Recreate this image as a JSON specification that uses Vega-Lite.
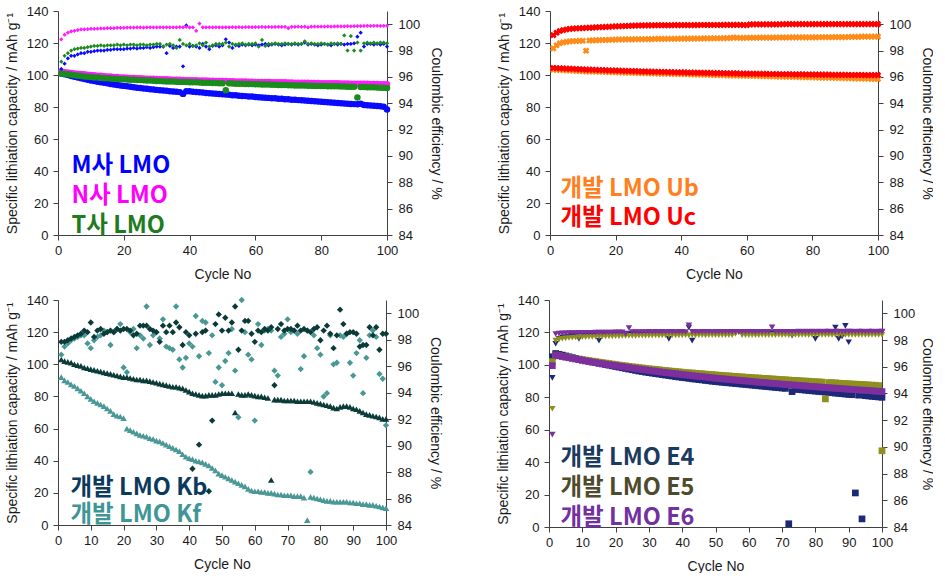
{
"$schema": "https://vega.github.io/schema/vega-lite/v6.json",
"padding": {"left": 5, "top": 5, "right": 0, "bottom": 0},
"background": "white",
"config": {
 "view": {"stroke": null},
 "font": "Liberation Sans",
 "axis": {"grid": false, "domainColor": "#404040", "tickColor": "#404040", "tickSize": 5, "labelFont": "Liberation Sans", "labelFontSize": 13, "labelColor": "#1a1a1a", "titleFont": "Liberation Sans", "titleFontSize": 14, "titleFontWeight": "normal", "titleColor": "#1a1a1a", "labelFlush": false, "labelOverlap": false},
 "legend": {"title": null, "orient": "none", "labelFont": "Noto Sans CJK KR", "labelFontSize": 23.5, "labelFontWeight": "bold", "symbolSize": 0, "symbolOpacity": 0, "symbolStrokeWidth": 0, "labelOffset": 0, "rowPadding": 4, "padding": 0, "labelLimit": 0}
},
"data": {"values": [
{"s":"M","c":1,"q":101.0,"e":96.6},{"s":"M","c":2,"q":100.5,"e":97.0},{"s":"M","c":3,"q":100.0,"e":97.4},{"s":"M","c":4,"q":99.4,"e":97.6},{"s":"M","c":5,"q":98.9,"e":97.6},{"s":"M","c":6,"q":98.4,"e":97.7},{"s":"M","c":7,"q":97.9,"e":97.8},{"s":"M","c":8,"q":97.5,"e":97.8},{"s":"M","c":9,"q":97.0,"e":97.9},{"s":"M","c":10,"q":96.6,"e":97.9},
{"s":"M","c":11,"q":96.2,"e":97.95},{"s":"M","c":12,"q":95.8,"e":98.0},{"s":"M","c":13,"q":95.4,"e":98.0},{"s":"M","c":14,"q":95.1,"e":98.0},{"s":"M","c":15,"q":94.8,"e":98.05},{"s":"M","c":16,"q":94.4,"e":98.05},{"s":"M","c":17,"q":94.1,"e":98.1},{"s":"M","c":18,"q":93.8,"e":98.1},{"s":"M","c":19,"q":93.5,"e":98.1},{"s":"M","c":20,"q":93.2,"e":98.1},
{"s":"M","c":21,"q":92.9,"e":98.15},{"s":"M","c":22,"q":92.6,"e":98.15},{"s":"M","c":23,"q":92.4,"e":98.2},{"s":"M","c":24,"q":92.1,"e":98.15},{"s":"M","c":25,"q":91.9,"e":98.2},{"s":"M","c":26,"q":91.6,"e":98.2},{"s":"M","c":27,"q":91.4,"e":98.25},{"s":"M","c":28,"q":91.1,"e":98.2},{"s":"M","c":29,"q":90.9,"e":98.25},{"s":"M","c":30,"q":90.7,"e":98.3},
{"s":"M","c":31,"q":90.5,"e":98.3},{"s":"M","c":32,"q":90.3,"e":98.3},{"s":"M","c":33,"q":90.1,"e":97.8},{"s":"M","c":34,"q":89.9,"e":98.35},{"s":"M","c":35,"q":89.7,"e":98.2},{"s":"M","c":36,"q":89.5,"e":98.3},{"s":"M","c":37,"q":89.3,"e":98.3},{"s":"M","c":38,"q":88.2,"e":96.8},{"s":"M","c":39,"q":89.9,"e":99.9},{"s":"M","c":40,"q":89.8,"e":98.3},
{"s":"M","c":41,"q":89.6,"e":98.35},{"s":"M","c":42,"q":89.4,"e":98.3},{"s":"M","c":43,"q":89.2,"e":98.2},{"s":"M","c":44,"q":89.0,"e":98.5},{"s":"M","c":45,"q":88.8,"e":98.3},{"s":"M","c":46,"q":88.6,"e":98.1},{"s":"M","c":47,"q":88.4,"e":98.35},{"s":"M","c":48,"q":88.3,"e":98.4},{"s":"M","c":49,"q":88.1,"e":98.3},{"s":"M","c":50,"q":87.9,"e":98.4},
{"s":"M","c":51,"q":87.8,"e":98.85},{"s":"M","c":52,"q":87.6,"e":98.6},{"s":"M","c":53,"q":87.4,"e":98.2},{"s":"M","c":54,"q":87.3,"e":98.4},{"s":"M","c":55,"q":87.1,"e":98.35},{"s":"M","c":56,"q":86.9,"e":98.45},{"s":"M","c":57,"q":86.8,"e":98.4},{"s":"M","c":58,"q":86.6,"e":98.45},{"s":"M","c":59,"q":86.5,"e":98.4},{"s":"M","c":60,"q":86.3,"e":98.45},
{"s":"M","c":61,"q":86.1,"e":98.4},{"s":"M","c":62,"q":86.0,"e":98.45},{"s":"M","c":63,"q":85.8,"e":98.5},{"s":"M","c":64,"q":85.7,"e":98.4},{"s":"M","c":65,"q":85.5,"e":98.45},{"s":"M","c":66,"q":85.4,"e":98.5},{"s":"M","c":67,"q":85.2,"e":98.45},{"s":"M","c":68,"q":85.1,"e":98.4},{"s":"M","c":69,"q":84.9,"e":98.45},{"s":"M","c":70,"q":84.8,"e":98.5},
{"s":"M","c":71,"q":84.6,"e":98.45},{"s":"M","c":72,"q":84.5,"e":98.5},{"s":"M","c":73,"q":84.3,"e":98.45},{"s":"M","c":74,"q":84.2,"e":98.5},{"s":"M","c":75,"q":84.0,"e":98.6},{"s":"M","c":76,"q":83.9,"e":98.45},{"s":"M","c":77,"q":83.7,"e":98.5},{"s":"M","c":78,"q":83.6,"e":98.45},{"s":"M","c":79,"q":83.4,"e":98.4},{"s":"M","c":80,"q":83.3,"e":98.45},
{"s":"M","c":81,"q":83.1,"e":98.5},{"s":"M","c":82,"q":83.0,"e":98.45},{"s":"M","c":83,"q":82.8,"e":98.4},{"s":"M","c":84,"q":82.7,"e":98.5},{"s":"M","c":85,"q":82.5,"e":98.45},{"s":"M","c":86,"q":82.4,"e":98.5},{"s":"M","c":87,"q":82.2,"e":98.45},{"s":"M","c":88,"q":82.1,"e":98.5},{"s":"M","c":89,"q":81.9,"e":98.5},{"s":"M","c":90,"q":81.8,"e":98.55},
{"s":"M","c":91,"q":81.7,"e":99.05},{"s":"M","c":92,"q":82.0,"e":99.35},{"s":"M","c":93,"q":81.3,"e":98.3},{"s":"M","c":94,"q":81.1,"e":98.5},{"s":"M","c":95,"q":81.0,"e":98.5},{"s":"M","c":96,"q":80.8,"e":98.45},{"s":"M","c":97,"q":80.6,"e":98.5},{"s":"M","c":98,"q":80.4,"e":98.45},{"s":"M","c":99,"q":80.2,"e":98.5},{"s":"M","c":100,"q":78.5,"e":98.3},
{"s":"N","c":1,"q":102.0,"e":98.85},{"s":"N","c":2,"q":101.7,"e":99.2},{"s":"N","c":3,"q":101.5,"e":99.35},{"s":"N","c":4,"q":101.2,"e":99.45},{"s":"N","c":5,"q":101.0,"e":99.5},{"s":"N","c":6,"q":100.8,"e":99.55},{"s":"N","c":7,"q":100.6,"e":99.6},{"s":"N","c":8,"q":100.4,"e":99.6},{"s":"N","c":9,"q":100.2,"e":99.62},{"s":"N","c":10,"q":100.0,"e":99.65},
{"s":"N","c":11,"q":99.8,"e":99.65},{"s":"N","c":12,"q":99.6,"e":99.66},{"s":"N","c":13,"q":99.5,"e":99.68},{"s":"N","c":14,"q":99.3,"e":99.68},{"s":"N","c":15,"q":99.1,"e":99.7},{"s":"N","c":16,"q":99.0,"e":99.7},{"s":"N","c":17,"q":98.8,"e":99.7},{"s":"N","c":18,"q":98.7,"e":99.72},{"s":"N","c":19,"q":98.5,"e":99.72},{"s":"N","c":20,"q":98.4,"e":99.72},
{"s":"N","c":21,"q":98.3,"e":99.74},{"s":"N","c":22,"q":98.2,"e":99.74},{"s":"N","c":23,"q":98.1,"e":99.74},{"s":"N","c":24,"q":98.0,"e":99.75},{"s":"N","c":25,"q":97.9,"e":99.75},{"s":"N","c":26,"q":97.8,"e":99.74},{"s":"N","c":27,"q":97.7,"e":99.75},{"s":"N","c":28,"q":97.7,"e":99.76},{"s":"N","c":29,"q":97.6,"e":99.75},{"s":"N","c":30,"q":97.5,"e":99.75},
{"s":"N","c":31,"q":97.4,"e":99.76},{"s":"N","c":32,"q":97.3,"e":99.75},{"s":"N","c":33,"q":97.3,"e":99.76},{"s":"N","c":34,"q":97.2,"e":99.75},{"s":"N","c":35,"q":97.1,"e":99.76},{"s":"N","c":36,"q":97.0,"e":99.75},{"s":"N","c":37,"q":97.0,"e":99.77},{"s":"N","c":38,"q":96.9,"e":99.76},{"s":"N","c":39,"q":96.8,"e":99.8},{"s":"N","c":40,"q":96.8,"e":99.75},
{"s":"N","c":41,"q":96.7,"e":99.75},{"s":"N","c":42,"q":96.7,"e":99.5},{"s":"N","c":43,"q":96.6,"e":100.05},{"s":"N","c":44,"q":96.5,"e":99.76},{"s":"N","c":45,"q":96.5,"e":99.75},{"s":"N","c":46,"q":96.4,"e":99.76},{"s":"N","c":47,"q":96.4,"e":99.75},{"s":"N","c":48,"q":96.3,"e":99.76},{"s":"N","c":49,"q":96.3,"e":99.76},{"s":"N","c":50,"q":96.2,"e":99.75},
{"s":"N","c":51,"q":96.2,"e":99.76},{"s":"N","c":52,"q":96.1,"e":99.76},{"s":"N","c":53,"q":96.1,"e":99.77},{"s":"N","c":54,"q":96.0,"e":99.76},{"s":"N","c":55,"q":96.0,"e":99.77},{"s":"N","c":56,"q":95.9,"e":99.76},{"s":"N","c":57,"q":95.9,"e":99.77},{"s":"N","c":58,"q":95.8,"e":99.78},{"s":"N","c":59,"q":95.8,"e":99.77},{"s":"N","c":60,"q":95.7,"e":99.78},
{"s":"N","c":61,"q":95.7,"e":99.78},{"s":"N","c":62,"q":95.6,"e":99.79},{"s":"N","c":63,"q":95.6,"e":99.78},{"s":"N","c":64,"q":95.6,"e":99.79},{"s":"N","c":65,"q":95.5,"e":99.78},{"s":"N","c":66,"q":95.5,"e":99.79},{"s":"N","c":67,"q":95.4,"e":99.8},{"s":"N","c":68,"q":95.4,"e":99.79},{"s":"N","c":69,"q":95.4,"e":99.8},{"s":"N","c":70,"q":95.3,"e":99.7},
{"s":"N","c":71,"q":95.3,"e":99.8},{"s":"N","c":72,"q":95.2,"e":99.8},{"s":"N","c":73,"q":95.2,"e":99.81},{"s":"N","c":74,"q":95.2,"e":99.8},{"s":"N","c":75,"q":95.1,"e":99.81},{"s":"N","c":76,"q":95.1,"e":99.75},{"s":"N","c":77,"q":95.0,"e":99.81},{"s":"N","c":78,"q":95.0,"e":99.82},{"s":"N","c":79,"q":95.0,"e":99.81},{"s":"N","c":80,"q":94.9,"e":99.82},
{"s":"N","c":81,"q":94.9,"e":99.82},{"s":"N","c":82,"q":94.9,"e":99.83},{"s":"N","c":83,"q":94.8,"e":99.82},{"s":"N","c":84,"q":94.8,"e":99.83},{"s":"N","c":85,"q":94.8,"e":99.84},{"s":"N","c":86,"q":94.7,"e":99.83},{"s":"N","c":87,"q":94.7,"e":99.84},{"s":"N","c":88,"q":94.7,"e":99.85},{"s":"N","c":89,"q":94.6,"e":99.84},{"s":"N","c":90,"q":94.6,"e":99.85},
{"s":"N","c":91,"q":94.6,"e":99.86},{"s":"N","c":92,"q":94.5,"e":99.86},{"s":"N","c":93,"q":94.5,"e":99.87},{"s":"N","c":94,"q":94.5,"e":99.88},{"s":"N","c":95,"q":94.4,"e":99.87},{"s":"N","c":96,"q":94.4,"e":99.88},{"s":"N","c":97,"q":94.4,"e":99.88},{"s":"N","c":98,"q":94.3,"e":99.87},{"s":"N","c":99,"q":94.3,"e":99.88},{"s":"N","c":100,"q":94.3,"e":99.88},
{"s":"T","c":1,"q":101.0,"e":97.15},{"s":"T","c":2,"q":100.7,"e":97.6},{"s":"T","c":3,"q":100.4,"e":97.8},{"s":"T","c":4,"q":100.1,"e":98.0},{"s":"T","c":5,"q":99.8,"e":98.1},{"s":"T","c":6,"q":99.6,"e":98.15},{"s":"T","c":7,"q":99.4,"e":98.2},{"s":"T","c":8,"q":99.1,"e":98.2},{"s":"T","c":9,"q":98.9,"e":98.25},{"s":"T","c":10,"q":98.7,"e":98.3},
{"s":"T","c":11,"q":98.5,"e":98.35},{"s":"T","c":12,"q":98.4,"e":98.35},{"s":"T","c":13,"q":98.2,"e":98.4},{"s":"T","c":14,"q":98.0,"e":98.35},{"s":"T","c":15,"q":97.9,"e":98.4},{"s":"T","c":16,"q":97.8,"e":98.4},{"s":"T","c":17,"q":97.7,"e":98.4},{"s":"T","c":18,"q":97.5,"e":98.45},{"s":"T","c":19,"q":97.4,"e":98.4},{"s":"T","c":20,"q":97.3,"e":98.45},
{"s":"T","c":21,"q":97.2,"e":98.4},{"s":"T","c":22,"q":97.1,"e":98.45},{"s":"T","c":23,"q":97.0,"e":98.45},{"s":"T","c":24,"q":96.9,"e":98.4},{"s":"T","c":25,"q":96.8,"e":98.45},{"s":"T","c":26,"q":96.7,"e":98.45},{"s":"T","c":27,"q":96.6,"e":98.4},{"s":"T","c":28,"q":96.5,"e":98.45},{"s":"T","c":29,"q":96.4,"e":98.45},{"s":"T","c":30,"q":96.3,"e":98.5},
{"s":"T","c":31,"q":96.2,"e":98.5},{"s":"T","c":32,"q":96.1,"e":98.3},{"s":"T","c":33,"q":96.0,"e":98.45},{"s":"T","c":34,"q":96.0,"e":98.5},{"s":"T","c":35,"q":95.9,"e":98.4},{"s":"T","c":36,"q":95.8,"e":98.2},{"s":"T","c":37,"q":95.7,"e":98.8},{"s":"T","c":38,"q":95.7,"e":98.5},{"s":"T","c":39,"q":95.6,"e":98.4},{"s":"T","c":40,"q":95.5,"e":98.5},
{"s":"T","c":41,"q":95.4,"e":98.35},{"s":"T","c":42,"q":95.4,"e":98.4},{"s":"T","c":43,"q":95.3,"e":98.55},{"s":"T","c":44,"q":95.2,"e":98.4},{"s":"T","c":45,"q":95.2,"e":98.6},{"s":"T","c":46,"q":95.1,"e":98.3},{"s":"T","c":47,"q":95.0,"e":98.4},{"s":"T","c":48,"q":95.0,"e":98.5},{"s":"T","c":49,"q":94.9,"e":98.5},{"s":"T","c":50,"q":94.8,"e":98.5},
{"s":"T","c":51,"q":90.5,"e":98.6},{"s":"T","c":52,"q":94.8,"e":98.3},{"s":"T","c":53,"q":94.7,"e":98.5},{"s":"T","c":54,"q":94.6,"e":98.45},{"s":"T","c":55,"q":94.6,"e":98.5},{"s":"T","c":56,"q":94.5,"e":98.55},{"s":"T","c":57,"q":94.4,"e":98.45},{"s":"T","c":58,"q":94.4,"e":98.5},{"s":"T","c":59,"q":94.3,"e":98.5},{"s":"T","c":60,"q":94.2,"e":98.55},
{"s":"T","c":61,"q":94.2,"e":98.3},{"s":"T","c":62,"q":94.1,"e":98.8},{"s":"T","c":63,"q":94.1,"e":98.35},{"s":"T","c":64,"q":94.0,"e":98.5},{"s":"T","c":65,"q":93.9,"e":98.5},{"s":"T","c":66,"q":93.9,"e":98.55},{"s":"T","c":67,"q":93.8,"e":98.5},{"s":"T","c":68,"q":93.8,"e":98.5},{"s":"T","c":69,"q":93.7,"e":98.55},{"s":"T","c":70,"q":93.6,"e":98.5},
{"s":"T","c":71,"q":93.6,"e":98.5},{"s":"T","c":72,"q":93.5,"e":98.55},{"s":"T","c":73,"q":93.5,"e":98.5},{"s":"T","c":74,"q":93.4,"e":98.5},{"s":"T","c":75,"q":93.4,"e":98.7},{"s":"T","c":76,"q":93.3,"e":98.5},{"s":"T","c":77,"q":93.3,"e":98.55},{"s":"T","c":78,"q":93.2,"e":98.5},{"s":"T","c":79,"q":93.2,"e":98.5},{"s":"T","c":80,"q":93.1,"e":98.55},
{"s":"T","c":81,"q":93.1,"e":98.5},{"s":"T","c":82,"q":93.0,"e":98.45},{"s":"T","c":83,"q":93.0,"e":98.55},{"s":"T","c":84,"q":92.9,"e":98.5},{"s":"T","c":85,"q":92.9,"e":98.55},{"s":"T","c":86,"q":92.8,"e":98.5},{"s":"T","c":87,"q":92.8,"e":99.15},{"s":"T","c":88,"q":92.7,"e":98.0},{"s":"T","c":89,"q":92.7,"e":99.1},{"s":"T","c":90,"q":92.6,"e":98.0},
{"s":"T","c":91,"q":86.0,"e":98.6},{"s":"T","c":92,"q":92.5,"e":98.0},{"s":"T","c":93,"q":92.5,"e":98.55},{"s":"T","c":94,"q":92.4,"e":98.6},{"s":"T","c":95,"q":92.4,"e":98.55},{"s":"T","c":96,"q":92.3,"e":98.6},{"s":"T","c":97,"q":92.2,"e":98.55},{"s":"T","c":98,"q":92.1,"e":98.6},{"s":"T","c":99,"q":92.0,"e":98.6},{"s":"T","c":100,"q":91.9,"e":98.55},
{"s":"Ub","c":1,"q":103.3,"e":98.16},{"s":"Ub","c":2,"q":103.2,"e":98.4},{"s":"Ub","c":3,"q":103.1,"e":98.55},{"s":"Ub","c":4,"q":103.0,"e":98.62},{"s":"Ub","c":5,"q":102.9,"e":98.66},{"s":"Ub","c":6,"q":102.8,"e":98.69},{"s":"Ub","c":7,"q":102.7,"e":98.71},{"s":"Ub","c":8,"q":102.6,"e":98.72},{"s":"Ub","c":9,"q":102.5,"e":98.73},{"s":"Ub","c":10,"q":102.4,"e":98.74},
{"s":"Ub","c":11,"q":102.3,"e":97.98},{"s":"Ub","c":12,"q":102.2,"e":98.76},{"s":"Ub","c":13,"q":102.2,"e":98.77},{"s":"Ub","c":14,"q":102.1,"e":98.78},{"s":"Ub","c":15,"q":102.0,"e":98.79},{"s":"Ub","c":16,"q":102.0,"e":98.8},{"s":"Ub","c":17,"q":101.9,"e":98.8},{"s":"Ub","c":18,"q":101.8,"e":98.81},{"s":"Ub","c":19,"q":101.8,"e":98.82},{"s":"Ub","c":20,"q":101.7,"e":98.83},
{"s":"Ub","c":21,"q":101.6,"e":98.84},{"s":"Ub","c":22,"q":101.6,"e":98.84},{"s":"Ub","c":23,"q":101.5,"e":98.85},{"s":"Ub","c":24,"q":101.5,"e":98.85},{"s":"Ub","c":25,"q":101.4,"e":98.85},{"s":"Ub","c":26,"q":101.3,"e":98.86},{"s":"Ub","c":27,"q":101.3,"e":98.86},{"s":"Ub","c":28,"q":101.2,"e":98.86},{"s":"Ub","c":29,"q":101.2,"e":98.87},{"s":"Ub","c":30,"q":101.1,"e":98.87},
{"s":"Ub","c":31,"q":101.0,"e":98.87},{"s":"Ub","c":32,"q":101.0,"e":98.88},{"s":"Ub","c":33,"q":100.9,"e":98.88},{"s":"Ub","c":34,"q":100.9,"e":98.88},{"s":"Ub","c":35,"q":100.8,"e":98.88},{"s":"Ub","c":36,"q":100.8,"e":98.89},{"s":"Ub","c":37,"q":100.7,"e":98.89},{"s":"Ub","c":38,"q":100.7,"e":98.89},{"s":"Ub","c":39,"q":100.6,"e":98.89},{"s":"Ub","c":40,"q":100.6,"e":98.9},
{"s":"Ub","c":41,"q":100.5,"e":98.9},{"s":"Ub","c":42,"q":100.5,"e":98.9},{"s":"Ub","c":43,"q":100.4,"e":98.9},{"s":"Ub","c":44,"q":100.4,"e":98.91},{"s":"Ub","c":45,"q":100.3,"e":98.91},{"s":"Ub","c":46,"q":100.3,"e":98.91},{"s":"Ub","c":47,"q":100.2,"e":98.92},{"s":"Ub","c":48,"q":100.2,"e":98.92},{"s":"Ub","c":49,"q":100.1,"e":98.92},{"s":"Ub","c":50,"q":100.0,"e":98.93},
{"s":"Ub","c":51,"q":100.0,"e":98.93},{"s":"Ub","c":52,"q":99.9,"e":98.93},{"s":"Ub","c":53,"q":99.9,"e":98.94},{"s":"Ub","c":54,"q":99.8,"e":98.94},{"s":"Ub","c":55,"q":99.8,"e":98.95},{"s":"Ub","c":56,"q":99.7,"e":98.99},{"s":"Ub","c":57,"q":99.7,"e":98.96},{"s":"Ub","c":58,"q":99.6,"e":98.96},{"s":"Ub","c":59,"q":99.6,"e":98.96},{"s":"Ub","c":60,"q":99.5,"e":98.97},
{"s":"Ub","c":61,"q":99.5,"e":98.97},{"s":"Ub","c":62,"q":99.4,"e":98.97},{"s":"Ub","c":63,"q":99.4,"e":98.97},{"s":"Ub","c":64,"q":99.3,"e":98.98},{"s":"Ub","c":65,"q":99.3,"e":98.98},{"s":"Ub","c":66,"q":99.2,"e":98.98},{"s":"Ub","c":67,"q":99.2,"e":98.98},{"s":"Ub","c":68,"q":99.1,"e":98.98},{"s":"Ub","c":69,"q":99.1,"e":98.99},{"s":"Ub","c":70,"q":99.0,"e":98.99},
{"s":"Ub","c":71,"q":99.0,"e":98.99},{"s":"Ub","c":72,"q":98.9,"e":98.99},{"s":"Ub","c":73,"q":98.9,"e":98.99},{"s":"Ub","c":74,"q":98.8,"e":99.0},{"s":"Ub","c":75,"q":98.8,"e":99.0},{"s":"Ub","c":76,"q":98.7,"e":99.0},{"s":"Ub","c":77,"q":98.7,"e":99.0},{"s":"Ub","c":78,"q":98.6,"e":99.0},{"s":"Ub","c":79,"q":98.6,"e":99.0},{"s":"Ub","c":80,"q":98.5,"e":99.0},
{"s":"Ub","c":81,"q":98.5,"e":99.0},{"s":"Ub","c":82,"q":98.4,"e":99.01},{"s":"Ub","c":83,"q":98.4,"e":99.01},{"s":"Ub","c":84,"q":98.3,"e":99.01},{"s":"Ub","c":85,"q":98.3,"e":99.01},{"s":"Ub","c":86,"q":98.2,"e":99.01},{"s":"Ub","c":87,"q":98.2,"e":99.02},{"s":"Ub","c":88,"q":98.1,"e":99.02},{"s":"Ub","c":89,"q":98.1,"e":99.02},{"s":"Ub","c":90,"q":98.0,"e":99.02},
{"s":"Ub","c":91,"q":98.0,"e":99.03},{"s":"Ub","c":92,"q":97.9,"e":99.04},{"s":"Ub","c":93,"q":97.9,"e":99.04},{"s":"Ub","c":94,"q":97.8,"e":99.04},{"s":"Ub","c":95,"q":97.8,"e":99.05},{"s":"Ub","c":96,"q":97.7,"e":99.05},{"s":"Ub","c":97,"q":97.7,"e":99.05},{"s":"Ub","c":98,"q":97.6,"e":99.05},{"s":"Ub","c":99,"q":97.6,"e":99.05},{"s":"Ub","c":100,"q":97.5,"e":99.05},
{"s":"Uc","c":1,"q":104.4,"e":99.17},{"s":"Uc","c":2,"q":104.3,"e":99.35},{"s":"Uc","c":3,"q":104.2,"e":99.48},{"s":"Uc","c":4,"q":104.1,"e":99.55},{"s":"Uc","c":5,"q":104.0,"e":99.6},{"s":"Uc","c":6,"q":103.9,"e":99.64},{"s":"Uc","c":7,"q":103.8,"e":99.66},{"s":"Uc","c":8,"q":103.7,"e":99.68},{"s":"Uc","c":9,"q":103.6,"e":99.69},{"s":"Uc","c":10,"q":103.5,"e":99.7},
{"s":"Uc","c":11,"q":103.4,"e":99.72},{"s":"Uc","c":12,"q":103.4,"e":99.73},{"s":"Uc","c":13,"q":103.3,"e":99.74},{"s":"Uc","c":14,"q":103.2,"e":99.76},{"s":"Uc","c":15,"q":103.1,"e":99.77},{"s":"Uc","c":16,"q":103.1,"e":99.78},{"s":"Uc","c":17,"q":103.0,"e":99.79},{"s":"Uc","c":18,"q":102.9,"e":99.8},{"s":"Uc","c":19,"q":102.8,"e":99.82},{"s":"Uc","c":20,"q":102.8,"e":99.83},
{"s":"Uc","c":21,"q":102.7,"e":99.84},{"s":"Uc","c":22,"q":102.6,"e":99.85},{"s":"Uc","c":23,"q":102.6,"e":99.86},{"s":"Uc","c":24,"q":102.5,"e":99.87},{"s":"Uc","c":25,"q":102.4,"e":99.88},{"s":"Uc","c":26,"q":102.4,"e":99.89},{"s":"Uc","c":27,"q":102.3,"e":99.9},{"s":"Uc","c":28,"q":102.2,"e":99.9},{"s":"Uc","c":29,"q":102.2,"e":99.91},{"s":"Uc","c":30,"q":102.1,"e":99.91},
{"s":"Uc","c":31,"q":102.1,"e":99.91},{"s":"Uc","c":32,"q":102.0,"e":99.92},{"s":"Uc","c":33,"q":102.0,"e":99.92},{"s":"Uc","c":34,"q":101.9,"e":99.92},{"s":"Uc","c":35,"q":101.9,"e":99.92},{"s":"Uc","c":36,"q":101.8,"e":99.92},{"s":"Uc","c":37,"q":101.8,"e":99.92},{"s":"Uc","c":38,"q":101.7,"e":99.93},{"s":"Uc","c":39,"q":101.7,"e":99.93},{"s":"Uc","c":40,"q":101.6,"e":99.93},
{"s":"Uc","c":41,"q":101.6,"e":99.93},{"s":"Uc","c":42,"q":101.5,"e":99.93},{"s":"Uc","c":43,"q":101.5,"e":99.93},{"s":"Uc","c":44,"q":101.5,"e":99.93},{"s":"Uc","c":45,"q":101.4,"e":99.93},{"s":"Uc","c":46,"q":101.4,"e":99.94},{"s":"Uc","c":47,"q":101.3,"e":99.94},{"s":"Uc","c":48,"q":101.3,"e":99.94},{"s":"Uc","c":49,"q":101.3,"e":99.94},{"s":"Uc","c":50,"q":101.2,"e":99.94},
{"s":"Uc","c":51,"q":101.2,"e":99.94},{"s":"Uc","c":52,"q":101.2,"e":99.94},{"s":"Uc","c":53,"q":101.1,"e":99.95},{"s":"Uc","c":54,"q":101.1,"e":99.95},{"s":"Uc","c":55,"q":101.0,"e":99.95},{"s":"Uc","c":56,"q":101.0,"e":99.95},{"s":"Uc","c":57,"q":101.0,"e":99.95},{"s":"Uc","c":58,"q":100.9,"e":99.95},{"s":"Uc","c":59,"q":100.9,"e":99.94},{"s":"Uc","c":60,"q":100.9,"e":99.93},
{"s":"Uc","c":61,"q":100.8,"e":99.98},{"s":"Uc","c":62,"q":100.8,"e":99.98},{"s":"Uc","c":63,"q":100.8,"e":99.98},{"s":"Uc","c":64,"q":100.7,"e":99.98},{"s":"Uc","c":65,"q":100.7,"e":99.99},{"s":"Uc","c":66,"q":100.7,"e":99.99},{"s":"Uc","c":67,"q":100.6,"e":99.99},{"s":"Uc","c":68,"q":100.6,"e":99.99},{"s":"Uc","c":69,"q":100.6,"e":99.99},{"s":"Uc","c":70,"q":100.5,"e":99.99},
{"s":"Uc","c":71,"q":100.5,"e":100.0},{"s":"Uc","c":72,"q":100.5,"e":100.0},{"s":"Uc","c":73,"q":100.5,"e":100.0},{"s":"Uc","c":74,"q":100.4,"e":100.0},{"s":"Uc","c":75,"q":100.4,"e":100.0},{"s":"Uc","c":76,"q":100.4,"e":100.0},{"s":"Uc","c":77,"q":100.4,"e":100.0},{"s":"Uc","c":78,"q":100.3,"e":100.0},{"s":"Uc","c":79,"q":100.3,"e":100.0},{"s":"Uc","c":80,"q":100.3,"e":100.0},
{"s":"Uc","c":81,"q":100.3,"e":100.0},{"s":"Uc","c":82,"q":100.2,"e":100.0},{"s":"Uc","c":83,"q":100.2,"e":100.0},{"s":"Uc","c":84,"q":100.2,"e":100.0},{"s":"Uc","c":85,"q":100.2,"e":100.0},{"s":"Uc","c":86,"q":100.1,"e":100.0},{"s":"Uc","c":87,"q":100.1,"e":100.0},{"s":"Uc","c":88,"q":100.1,"e":100.0},{"s":"Uc","c":89,"q":100.1,"e":100.0},{"s":"Uc","c":90,"q":100.1,"e":100.0},
{"s":"Uc","c":91,"q":100.0,"e":100.0},{"s":"Uc","c":92,"q":100.0,"e":100.0},{"s":"Uc","c":93,"q":100.0,"e":100.0},{"s":"Uc","c":94,"q":100.0,"e":100.0},{"s":"Uc","c":95,"q":100.0,"e":100.0},{"s":"Uc","c":96,"q":99.9,"e":100.0},{"s":"Uc","c":97,"q":99.9,"e":100.0},{"s":"Uc","c":98,"q":99.9,"e":100.0},{"s":"Uc","c":99,"q":99.9,"e":100.0},{"s":"Uc","c":100,"q":99.9,"e":100.0},
{"s":"Kf","c":1,"q":92,"e":96.87},{"s":"Kf","c":2,"q":90,"e":97.48},{"s":"Kf","c":3,"q":89,"e":97.72},{"s":"Kf","c":4,"q":87.5,"e":97.96},{"s":"Kf","c":5,"q":86.5,"e":98.09},{"s":"Kf","c":6,"q":85,"e":98.21},{"s":"Kf","c":7,"q":83.5,"e":98.33},{"s":"Kf","c":8,"q":82,"e":98.33},{"s":"Kf","c":9,"q":80,"e":97.72},{"s":"Kf","c":10,"q":78.5,"e":97.36},
{"s":"Kf","c":11,"q":77,"e":97.96},{"s":"Kf","c":12,"q":76,"e":98.21},{"s":"Kf","c":13,"q":75,"e":98.33},{"s":"Kf","c":14,"q":74,"e":98.69},{"s":"Kf","c":15,"q":72.5,"e":98.57},{"s":"Kf","c":16,"q":71,"e":97.6},{"s":"Kf","c":17,"q":69,"e":98.57},{"s":"Kf","c":18,"q":68,"e":98.81},{"s":"Kf","c":19,"q":67.5,"e":99.18},{"s":"Kf","c":20,"q":66.5,"e":95.9},
{"s":"Kf","c":21,"q":60,"e":95.54},{"s":"Kf","c":22,"q":59,"e":98.57},{"s":"Kf","c":23,"q":58,"e":98.81},{"s":"Kf","c":24,"q":57,"e":97.36},{"s":"Kf","c":25,"q":56,"e":98.33},{"s":"Kf","c":26,"q":55.5,"e":98.09},{"s":"Kf","c":27,"q":55,"e":100.51},{"s":"Kf","c":28,"q":54,"e":97.6},{"s":"Kf","c":29,"q":53.5,"e":98.33},{"s":"Kf","c":30,"q":52.5,"e":98.57},
{"s":"Kf","c":31,"q":52,"e":98.09},{"s":"Kf","c":32,"q":51,"e":99.54},{"s":"Kf","c":33,"q":50,"e":97.48},{"s":"Kf","c":34,"q":49,"e":97.36},{"s":"Kf","c":35,"q":48,"e":97.24},{"s":"Kf","c":36,"q":47,"e":100.51},{"s":"Kf","c":37,"q":46,"e":96.51},{"s":"Kf","c":38,"q":44,"e":95.9},{"s":"Kf","c":39,"q":42.5,"e":96.63},{"s":"Kf","c":40,"q":41.5,"e":97.72},
{"s":"Kf","c":41,"q":41,"e":97.48},{"s":"Kf","c":42,"q":40,"e":99.79},{"s":"Kf","c":43,"q":39.5,"e":96.75},{"s":"Kf","c":44,"q":39,"e":99.42},{"s":"Kf","c":45,"q":38,"e":99.3},{"s":"Kf","c":46,"q":37,"e":96.99},{"s":"Kf","c":47,"q":35.5,"e":98.33},{"s":"Kf","c":48,"q":34,"e":94.81},{"s":"Kf","c":49,"q":32,"e":95.9},{"s":"Kf","c":50,"q":31,"e":94.56},
{"s":"Kf","c":51,"q":30,"e":96.39},{"s":"Kf","c":52,"q":29,"e":96.99},{"s":"Kf","c":53,"q":28,"e":98.81},{"s":"Kf","c":54,"q":27,"e":95.66},{"s":"Kf","c":55,"q":26,"e":92.14},{"s":"Kf","c":56,"q":25,"e":101.0},{"s":"Kf","c":57,"q":24,"e":98.57},{"s":"Kf","c":58,"q":22.5,"e":96.87},{"s":"Kf","c":59,"q":21.5,"e":96.51},{"s":"Kf","c":60,"q":21,"e":91.89},
{"s":"Kf","c":61,"q":21,"e":99.18},{"s":"Kf","c":62,"q":20.5,"e":97.6},{"s":"Kf","c":63,"q":20.5,"e":98.69},{"s":"Kf","c":64,"q":20,"e":98.81},{"s":"Kf","c":65,"q":20,"e":98.69},{"s":"Kf","c":66,"q":19.5,"e":95.66},{"s":"Kf","c":67,"q":19,"e":95.29},{"s":"Kf","c":68,"q":19,"e":98.21},{"s":"Kf","c":69,"q":18.5,"e":98.45},{"s":"Kf","c":70,"q":18.5,"e":99.54},
{"s":"Kf","c":71,"q":18.5,"e":98.57},{"s":"Kf","c":72,"q":18,"e":98.69},{"s":"Kf","c":73,"q":18,"e":98.45},{"s":"Kf","c":74,"q":18,"e":95.78},{"s":"Kf","c":75,"q":17,"e":96.75},{"s":"Kf","c":76,"q":3,"e":98.69},{"s":"Kf","c":77,"q":17.5,"e":88.01},{"s":"Kf","c":78,"q":17,"e":98.33},{"s":"Kf","c":79,"q":16.5,"e":97.36},{"s":"Kf","c":80,"q":16,"e":96.87},
{"s":"Kf","c":81,"q":15.5,"e":93.71},{"s":"Kf","c":82,"q":15,"e":93.96},{"s":"Kf","c":83,"q":15,"e":98.33},{"s":"Kf","c":84,"q":14.5,"e":96.14},{"s":"Kf","c":85,"q":14.5,"e":96.26},{"s":"Kf","c":86,"q":14.5,"e":98.33},{"s":"Kf","c":87,"q":14.5,"e":98.21},{"s":"Kf","c":88,"q":14.5,"e":98.45},{"s":"Kf","c":89,"q":14,"e":96.26},{"s":"Kf","c":90,"q":14,"e":95.29},
{"s":"Kf","c":91,"q":13.5,"e":96.99},{"s":"Kf","c":92,"q":13.5,"e":97.96},{"s":"Kf","c":93,"q":13,"e":93.96},{"s":"Kf","c":94,"q":13,"e":96.63},{"s":"Kf","c":95,"q":12.5,"e":98.33},{"s":"Kf","c":96,"q":12.5,"e":98.69},{"s":"Kf","c":97,"q":12,"e":98.21},{"s":"Kf","c":98,"q":11.5,"e":95.41},{"s":"Kf","c":99,"q":11,"e":95.05},{"s":"Kf","c":100,"q":10.5,"e":91.53},
{"s":"Kb","c":1,"q":103,"e":97.84},{"s":"Kb","c":2,"q":102,"e":97.84},{"s":"Kb","c":3,"q":101.5,"e":97.96},{"s":"Kb","c":4,"q":101,"e":98.09},{"s":"Kb","c":5,"q":100,"e":98.21},{"s":"Kb","c":6,"q":99.5,"e":98.33},{"s":"Kb","c":7,"q":99,"e":98.45},{"s":"Kb","c":8,"q":98,"e":98.69},{"s":"Kb","c":9,"q":97.5,"e":98.57},{"s":"Kb","c":10,"q":97,"e":99.3},
{"s":"Kb","c":11,"q":96.5,"e":98.21},{"s":"Kb","c":12,"q":96,"e":98.69},{"s":"Kb","c":13,"q":95.5,"e":98.81},{"s":"Kb","c":14,"q":95,"e":98.45},{"s":"Kb","c":15,"q":94.5,"e":98.57},{"s":"Kb","c":16,"q":94,"e":98.69},{"s":"Kb","c":17,"q":93.5,"e":98.57},{"s":"Kb","c":18,"q":93,"e":98.81},{"s":"Kb","c":19,"q":92.5,"e":98.69},{"s":"Kb","c":20,"q":92,"e":98.81},
{"s":"Kb","c":21,"q":92,"e":98.81},{"s":"Kb","c":22,"q":91.5,"e":98.69},{"s":"Kb","c":23,"q":91,"e":98.33},{"s":"Kb","c":24,"q":90.5,"e":98.45},{"s":"Kb","c":25,"q":90.5,"e":99.06},{"s":"Kb","c":26,"q":90,"e":99.06},{"s":"Kb","c":27,"q":90,"e":99.06},{"s":"Kb","c":28,"q":89.5,"e":98.81},{"s":"Kb","c":29,"q":89,"e":98.69},{"s":"Kb","c":30,"q":88.5,"e":98.57},
{"s":"Kb","c":31,"q":88,"e":97.84},{"s":"Kb","c":32,"q":87.5,"e":99.06},{"s":"Kb","c":33,"q":87,"e":98.57},{"s":"Kb","c":34,"q":86.5,"e":99.06},{"s":"Kb","c":35,"q":86,"e":98.57},{"s":"Kb","c":36,"q":86,"e":99.3},{"s":"Kb","c":37,"q":85.5,"e":98.94},{"s":"Kb","c":38,"q":85,"e":97.6},{"s":"Kb","c":39,"q":84,"e":98.57},{"s":"Kb","c":40,"q":83,"e":98.33},
{"s":"Kb","c":41,"q":82,"e":88.25},{"s":"Kb","c":42,"q":81.5,"e":98.45},{"s":"Kb","c":43,"q":81,"e":90.07},{"s":"Kb","c":44,"q":80.5,"e":98.57},{"s":"Kb","c":45,"q":80.5,"e":98.69},{"s":"Kb","c":46,"q":81,"e":86.55},{"s":"Kb","c":47,"q":81,"e":91.89},{"s":"Kb","c":48,"q":81,"e":99.18},{"s":"Kb","c":49,"q":81.5,"e":99.91},{"s":"Kb","c":50,"q":82,"e":98.69},
{"s":"Kb","c":51,"q":82,"e":99.66},{"s":"Kb","c":52,"q":82,"e":98.69},{"s":"Kb","c":53,"q":82,"e":99.3},{"s":"Kb","c":54,"q":70,"e":100.51},{"s":"Kb","c":55,"q":81.5,"e":97.24},{"s":"Kb","c":56,"q":81,"e":98.69},{"s":"Kb","c":57,"q":81,"e":99.42},{"s":"Kb","c":58,"q":81.5,"e":99.42},{"s":"Kb","c":59,"q":81,"e":98.45},{"s":"Kb","c":60,"q":80.5,"e":97.84},
{"s":"Kb","c":61,"q":80,"e":98.69},{"s":"Kb","c":62,"q":80,"e":98.57},{"s":"Kb","c":63,"q":79.5,"e":98.81},{"s":"Kb","c":64,"q":79,"e":98.69},{"s":"Kb","c":65,"q":28,"e":98.94},{"s":"Kb","c":66,"q":78,"e":94.56},{"s":"Kb","c":67,"q":78,"e":98.81},{"s":"Kb","c":68,"q":78,"e":99.18},{"s":"Kb","c":69,"q":77.5,"e":98.69},{"s":"Kb","c":70,"q":77.5,"e":98.81},
{"s":"Kb","c":71,"q":77.5,"e":98.81},{"s":"Kb","c":72,"q":77.5,"e":98.69},{"s":"Kb","c":73,"q":77,"e":99.06},{"s":"Kb","c":74,"q":77,"e":98.69},{"s":"Kb","c":75,"q":77,"e":98.81},{"s":"Kb","c":76,"q":77,"e":98.69},{"s":"Kb","c":77,"q":77,"e":98.57},{"s":"Kb","c":78,"q":76.5,"e":98.81},{"s":"Kb","c":79,"q":76,"e":98.94},{"s":"Kb","c":80,"q":75.5,"e":97.96},
{"s":"Kb","c":81,"q":75,"e":98.69},{"s":"Kb","c":82,"q":74.5,"e":99.06},{"s":"Kb","c":83,"q":74,"e":98.45},{"s":"Kb","c":84,"q":73,"e":97.36},{"s":"Kb","c":85,"q":72.5,"e":98.33},{"s":"Kb","c":86,"q":73.5,"e":100.27},{"s":"Kb","c":87,"q":74,"e":99.18},{"s":"Kb","c":88,"q":74,"e":98.45},{"s":"Kb","c":89,"q":73.5,"e":98.57},{"s":"Kb","c":90,"q":72.5,"e":98.57},
{"s":"Kb","c":91,"q":72,"e":98.45},{"s":"Kb","c":92,"q":71,"e":97.48},{"s":"Kb","c":93,"q":70,"e":97.6},{"s":"Kb","c":94,"q":69,"e":97.6},{"s":"Kb","c":95,"q":68.5,"e":98.94},{"s":"Kb","c":96,"q":68,"e":98.33},{"s":"Kb","c":97,"q":67.5,"e":98.94},{"s":"Kb","c":98,"q":67,"e":97.24},{"s":"Kb","c":99,"q":66,"e":98.45},{"s":"Kb","c":100,"q":66,"e":98.45},
{"s":"E4","c":1,"q":105,"e":95.17},{"s":"E4","c":2,"q":107,"e":97.72},{"s":"E4","c":3,"q":106.5,"e":98.09},{"s":"E4","c":4,"q":106,"e":98.21},{"s":"E4","c":5,"q":105.5,"e":98.21},{"s":"E4","c":6,"q":105,"e":98.27},{"s":"E4","c":7,"q":104.5,"e":98.33},{"s":"E4","c":8,"q":104,"e":98.33},{"s":"E4","c":9,"q":103.5,"e":98.09},{"s":"E4","c":10,"q":103,"e":98.39},
{"s":"E4","c":11,"q":102.6,"e":98.39},{"s":"E4","c":12,"q":102.2,"e":98.4},{"s":"E4","c":13,"q":101.8,"e":98.42},{"s":"E4","c":14,"q":101.4,"e":98.42},{"s":"E4","c":15,"q":101,"e":97.96},{"s":"E4","c":16,"q":100.6,"e":98.42},{"s":"E4","c":17,"q":100.2,"e":98.45},{"s":"E4","c":18,"q":99.8,"e":98.45},{"s":"E4","c":19,"q":99.4,"e":98.45},{"s":"E4","c":20,"q":99,"e":98.45},
{"s":"E4","c":21,"q":98.6,"e":98.47},{"s":"E4","c":22,"q":98.2,"e":98.45},{"s":"E4","c":23,"q":97.8,"e":98.48},{"s":"E4","c":24,"q":97.4,"e":98.45},{"s":"E4","c":25,"q":97,"e":98.5},{"s":"E4","c":26,"q":96.6,"e":98.47},{"s":"E4","c":27,"q":96.2,"e":98.48},{"s":"E4","c":28,"q":95.9,"e":98.5},{"s":"E4","c":29,"q":95.5,"e":98.47},{"s":"E4","c":30,"q":95.2,"e":98.5},
{"s":"E4","c":31,"q":94.9,"e":98.5},{"s":"E4","c":32,"q":94.6,"e":98.48},{"s":"E4","c":33,"q":94.3,"e":98.5},{"s":"E4","c":34,"q":94,"e":98.5},{"s":"E4","c":35,"q":93.7,"e":98.48},{"s":"E4","c":36,"q":93.4,"e":98.09},{"s":"E4","c":37,"q":93.1,"e":98.5},{"s":"E4","c":38,"q":92.8,"e":98.48},{"s":"E4","c":39,"q":92.5,"e":98.5},{"s":"E4","c":40,"q":92.2,"e":98.5},
{"s":"E4","c":41,"q":92,"e":98.45},{"s":"E4","c":42,"q":91.7,"e":98.94},{"s":"E4","c":43,"q":91.4,"e":97.96},{"s":"E4","c":44,"q":91.2,"e":98.5},{"s":"E4","c":45,"q":90.9,"e":98.48},{"s":"E4","c":46,"q":90.7,"e":98.5},{"s":"E4","c":47,"q":90.4,"e":98.5},{"s":"E4","c":48,"q":90.2,"e":98.52},{"s":"E4","c":49,"q":89.9,"e":98.5},{"s":"E4","c":50,"q":89.7,"e":98.5},
{"s":"E4","c":51,"q":89.5,"e":98.52},{"s":"E4","c":52,"q":89.3,"e":98.5},{"s":"E4","c":53,"q":89.1,"e":98.5},{"s":"E4","c":54,"q":88.9,"e":98.52},{"s":"E4","c":55,"q":88.7,"e":98.5},{"s":"E4","c":56,"q":88.5,"e":98.52},{"s":"E4","c":57,"q":88.3,"e":98.6},{"s":"E4","c":58,"q":88.1,"e":98.45},{"s":"E4","c":59,"q":87.9,"e":98.52},{"s":"E4","c":60,"q":87.7,"e":98.5},
{"s":"E4","c":61,"q":87.5,"e":98.52},{"s":"E4","c":62,"q":87.3,"e":98.5},{"s":"E4","c":63,"q":87.1,"e":98.52},{"s":"E4","c":64,"q":86.9,"e":98.5},{"s":"E4","c":65,"q":86.7,"e":98.52},{"s":"E4","c":66,"q":86.5,"e":98.5},{"s":"E4","c":67,"q":86.3,"e":98.52},{"s":"E4","c":68,"q":86.1,"e":98.5},{"s":"E4","c":69,"q":85.9,"e":98.52},{"s":"E4","c":70,"q":85.7,"e":98.5},
{"s":"E4","c":71,"q":85.5,"e":98.52},{"s":"E4","c":72,"q":2,"e":98.5},{"s":"E4","c":73,"q":83.5,"e":98.33},{"s":"E4","c":74,"q":85,"e":98.52},{"s":"E4","c":75,"q":84.8,"e":98.5},{"s":"E4","c":76,"q":84.6,"e":98.52},{"s":"E4","c":77,"q":84.4,"e":98.5},{"s":"E4","c":78,"q":84.2,"e":98.52},{"s":"E4","c":79,"q":84,"e":98.5},{"s":"E4","c":80,"q":83.8,"e":98.09},
{"s":"E4","c":81,"q":83.6,"e":98.52},{"s":"E4","c":82,"q":83.4,"e":98.5},{"s":"E4","c":83,"q":83.2,"e":98.52},{"s":"E4","c":84,"q":83,"e":98.55},{"s":"E4","c":85,"q":82.8,"e":98.5},{"s":"E4","c":86,"q":82.6,"e":98.94},{"s":"E4","c":87,"q":82.4,"e":98.09},{"s":"E4","c":88,"q":82.2,"e":98.27},{"s":"E4","c":89,"q":82,"e":99.06},{"s":"E4","c":90,"q":81.8,"e":97.84},
{"s":"E4","c":91,"q":81.6,"e":98.52},{"s":"E4","c":92,"q":21,"e":98.5},{"s":"E4","c":93,"q":81.3,"e":98.52},{"s":"E4","c":94,"q":5,"e":98.5},{"s":"E4","c":95,"q":81,"e":98.52},{"s":"E4","c":96,"q":80.8,"e":98.5},{"s":"E4","c":97,"q":80.6,"e":98.52},{"s":"E4","c":98,"q":80.4,"e":98.5},{"s":"E4","c":99,"q":80.2,"e":98.52},{"s":"E4","c":100,"q":80,"e":98.6},
{"s":"E5","c":1,"q":102,"e":92.86},{"s":"E5","c":2,"q":106,"e":97.96},{"s":"E5","c":3,"q":105.6,"e":98.05},{"s":"E5","c":4,"q":105.2,"e":98.1},{"s":"E5","c":5,"q":104.9,"e":98.13},{"s":"E5","c":6,"q":104.5,"e":98.15},{"s":"E5","c":7,"q":104.2,"e":98.17},{"s":"E5","c":8,"q":103.8,"e":98.19},{"s":"E5","c":9,"q":103.5,"e":98.2},{"s":"E5","c":10,"q":103.2,"e":98.21},
{"s":"E5","c":11,"q":102.9,"e":98.22},{"s":"E5","c":12,"q":102.6,"e":98.23},{"s":"E5","c":13,"q":102.3,"e":98.24},{"s":"E5","c":14,"q":102,"e":98.25},{"s":"E5","c":15,"q":101.7,"e":98.26},{"s":"E5","c":16,"q":101.4,"e":98.27},{"s":"E5","c":17,"q":101.1,"e":98.27},{"s":"E5","c":18,"q":100.8,"e":98.28},{"s":"E5","c":19,"q":100.5,"e":98.28},{"s":"E5","c":20,"q":100.2,"e":98.29},
{"s":"E5","c":21,"q":99.9,"e":98.29},{"s":"E5","c":22,"q":99.6,"e":98.3},{"s":"E5","c":23,"q":99.4,"e":98.3},{"s":"E5","c":24,"q":99.1,"e":98.31},{"s":"E5","c":25,"q":98.8,"e":98.31},{"s":"E5","c":26,"q":98.6,"e":98.31},{"s":"E5","c":27,"q":98.3,"e":98.32},{"s":"E5","c":28,"q":98.1,"e":98.32},{"s":"E5","c":29,"q":97.8,"e":98.32},{"s":"E5","c":30,"q":97.6,"e":98.33},
{"s":"E5","c":31,"q":97.4,"e":98.33},{"s":"E5","c":32,"q":97.2,"e":98.34},{"s":"E5","c":33,"q":97,"e":98.33},{"s":"E5","c":34,"q":96.7,"e":98.34},{"s":"E5","c":35,"q":96.5,"e":98.35},{"s":"E5","c":36,"q":96.3,"e":98.34},{"s":"E5","c":37,"q":96.1,"e":98.35},{"s":"E5","c":38,"q":95.9,"e":98.35},{"s":"E5","c":39,"q":95.7,"e":98.34},{"s":"E5","c":40,"q":95.5,"e":98.35},
{"s":"E5","c":41,"q":95.3,"e":98.36},{"s":"E5","c":42,"q":95.1,"e":98.35},{"s":"E5","c":43,"q":95,"e":98.36},{"s":"E5","c":44,"q":94.8,"e":98.35},{"s":"E5","c":45,"q":94.6,"e":98.36},{"s":"E5","c":46,"q":94.5,"e":98.36},{"s":"E5","c":47,"q":94.3,"e":98.35},{"s":"E5","c":48,"q":94.1,"e":98.36},{"s":"E5","c":49,"q":94,"e":98.37},{"s":"E5","c":50,"q":93.8,"e":98.36},
{"s":"E5","c":51,"q":93.6,"e":98.36},{"s":"E5","c":52,"q":93.5,"e":98.37},{"s":"E5","c":53,"q":93.3,"e":98.36},{"s":"E5","c":54,"q":93.2,"e":98.37},{"s":"E5","c":55,"q":93,"e":98.36},{"s":"E5","c":56,"q":92.9,"e":98.45},{"s":"E5","c":57,"q":92.7,"e":98.6},{"s":"E5","c":58,"q":92.6,"e":98.37},{"s":"E5","c":59,"q":92.4,"e":98.36},{"s":"E5","c":60,"q":92.3,"e":98.37},
{"s":"E5","c":61,"q":92.1,"e":98.37},{"s":"E5","c":62,"q":92,"e":98.36},{"s":"E5","c":63,"q":91.9,"e":98.37},{"s":"E5","c":64,"q":91.7,"e":98.38},{"s":"E5","c":65,"q":91.6,"e":98.37},{"s":"E5","c":66,"q":91.5,"e":98.37},{"s":"E5","c":67,"q":91.3,"e":98.38},{"s":"E5","c":68,"q":91.2,"e":98.37},{"s":"E5","c":69,"q":91,"e":98.38},{"s":"E5","c":70,"q":90.9,"e":98.37},
{"s":"E5","c":71,"q":90.8,"e":98.38},{"s":"E5","c":72,"q":90.6,"e":98.37},{"s":"E5","c":73,"q":90.5,"e":98.38},{"s":"E5","c":74,"q":90.4,"e":98.38},{"s":"E5","c":75,"q":90.3,"e":98.37},{"s":"E5","c":76,"q":90.1,"e":98.38},{"s":"E5","c":77,"q":90,"e":98.38},{"s":"E5","c":78,"q":89.9,"e":98.37},{"s":"E5","c":79,"q":89.7,"e":98.38},{"s":"E5","c":80,"q":89.6,"e":98.38},
{"s":"E5","c":81,"q":89.5,"e":98.38},{"s":"E5","c":82,"q":89.4,"e":98.38},{"s":"E5","c":83,"q":79,"e":98.39},{"s":"E5","c":84,"q":89.1,"e":98.38},{"s":"E5","c":85,"q":89,"e":98.38},{"s":"E5","c":86,"q":88.9,"e":98.39},{"s":"E5","c":87,"q":88.7,"e":98.38},{"s":"E5","c":88,"q":88.6,"e":98.39},{"s":"E5","c":89,"q":88.5,"e":98.38},{"s":"E5","c":90,"q":88.3,"e":98.39},
{"s":"E5","c":91,"q":88.2,"e":98.39},{"s":"E5","c":92,"q":88.1,"e":98.38},{"s":"E5","c":93,"q":88,"e":98.39},{"s":"E5","c":94,"q":87.9,"e":98.39},{"s":"E5","c":95,"q":87.8,"e":98.38},{"s":"E5","c":96,"q":87.6,"e":98.39},{"s":"E5","c":97,"q":87.5,"e":98.39},{"s":"E5","c":98,"q":87.4,"e":98.38},{"s":"E5","c":99,"q":87.2,"e":98.39},{"s":"E5","c":100,"q":47,"e":98.39},
{"s":"E6","c":1,"q":99.5,"e":90.92},{"s":"E6","c":2,"q":106,"e":98.45},{"s":"E6","c":3,"q":105.6,"e":98.48},{"s":"E6","c":4,"q":105.2,"e":98.5},{"s":"E6","c":5,"q":104.8,"e":98.51},{"s":"E6","c":6,"q":104.4,"e":98.52},{"s":"E6","c":7,"q":104,"e":98.53},{"s":"E6","c":8,"q":103.6,"e":98.53},{"s":"E6","c":9,"q":103.2,"e":98.54},{"s":"E6","c":10,"q":102.8,"e":98.54},
{"s":"E6","c":11,"q":102.4,"e":98.55},{"s":"E6","c":12,"q":102.1,"e":98.55},{"s":"E6","c":13,"q":101.7,"e":98.55},{"s":"E6","c":14,"q":101.4,"e":98.56},{"s":"E6","c":15,"q":101,"e":98.56},{"s":"E6","c":16,"q":100.7,"e":98.56},{"s":"E6","c":17,"q":100.4,"e":98.57},{"s":"E6","c":18,"q":100.1,"e":98.57},{"s":"E6","c":19,"q":99.8,"e":98.57},{"s":"E6","c":20,"q":99.5,"e":98.58},
{"s":"E6","c":21,"q":99.2,"e":98.58},{"s":"E6","c":22,"q":98.9,"e":98.58},{"s":"E6","c":23,"q":98.6,"e":98.45},{"s":"E6","c":24,"q":98.3,"e":98.9},{"s":"E6","c":25,"q":98,"e":98.6},{"s":"E6","c":26,"q":97.7,"e":98.6},{"s":"E6","c":27,"q":97.4,"e":98.59},{"s":"E6","c":28,"q":97.1,"e":98.6},{"s":"E6","c":29,"q":96.9,"e":98.6},{"s":"E6","c":30,"q":96.6,"e":98.61},
{"s":"E6","c":31,"q":96.3,"e":98.6},{"s":"E6","c":32,"q":96.1,"e":98.61},{"s":"E6","c":33,"q":95.8,"e":98.6},{"s":"E6","c":34,"q":95.5,"e":98.61},{"s":"E6","c":35,"q":95.3,"e":98.6},{"s":"E6","c":36,"q":95,"e":98.61},{"s":"E6","c":37,"q":94.8,"e":98.61},{"s":"E6","c":38,"q":94.5,"e":98.6},{"s":"E6","c":39,"q":94.3,"e":98.61},{"s":"E6","c":40,"q":94,"e":98.61},
{"s":"E6","c":41,"q":93.8,"e":98.6},{"s":"E6","c":42,"q":93.6,"e":99.1},{"s":"E6","c":43,"q":93.3,"e":98.61},{"s":"E6","c":44,"q":93.1,"e":98.61},{"s":"E6","c":45,"q":92.9,"e":98.6},{"s":"E6","c":46,"q":92.7,"e":98.61},{"s":"E6","c":47,"q":92.5,"e":98.61},{"s":"E6","c":48,"q":92.3,"e":98.61},{"s":"E6","c":49,"q":92,"e":98.6},{"s":"E6","c":50,"q":91.8,"e":98.61},
{"s":"E6","c":51,"q":91.6,"e":98.61},{"s":"E6","c":52,"q":91.4,"e":98.61},{"s":"E6","c":53,"q":91.2,"e":98.61},{"s":"E6","c":54,"q":91,"e":98.62},{"s":"E6","c":55,"q":90.8,"e":98.61},{"s":"E6","c":56,"q":90.6,"e":98.62},{"s":"E6","c":57,"q":90.5,"e":98.61},{"s":"E6","c":58,"q":90.3,"e":98.62},{"s":"E6","c":59,"q":90.1,"e":98.61},{"s":"E6","c":60,"q":89.9,"e":98.62},
{"s":"E6","c":61,"q":89.7,"e":98.62},{"s":"E6","c":62,"q":89.5,"e":98.61},{"s":"E6","c":63,"q":89.3,"e":98.62},{"s":"E6","c":64,"q":89.2,"e":98.62},{"s":"E6","c":65,"q":89,"e":98.62},{"s":"E6","c":66,"q":88.8,"e":98.62},{"s":"E6","c":67,"q":88.6,"e":98.95},{"s":"E6","c":68,"q":88.5,"e":98.62},{"s":"E6","c":69,"q":88.3,"e":98.62},{"s":"E6","c":70,"q":88.1,"e":98.62},
{"s":"E6","c":71,"q":87.9,"e":98.62},{"s":"E6","c":72,"q":87.8,"e":98.62},{"s":"E6","c":73,"q":87.6,"e":98.62},{"s":"E6","c":74,"q":87.5,"e":98.62},{"s":"E6","c":75,"q":87.3,"e":98.63},{"s":"E6","c":76,"q":87.1,"e":98.62},{"s":"E6","c":77,"q":87,"e":98.63},{"s":"E6","c":78,"q":86.8,"e":98.62},{"s":"E6","c":79,"q":86.7,"e":98.63},{"s":"E6","c":80,"q":86.5,"e":98.62},
{"s":"E6","c":81,"q":86.3,"e":98.63},{"s":"E6","c":82,"q":86.2,"e":98.62},{"s":"E6","c":83,"q":86,"e":98.63},{"s":"E6","c":84,"q":85.9,"e":98.63},{"s":"E6","c":85,"q":85.7,"e":98.62},{"s":"E6","c":86,"q":85.6,"e":98.63},{"s":"E6","c":87,"q":85.4,"e":98.63},{"s":"E6","c":88,"q":85.3,"e":98.62},{"s":"E6","c":89,"q":85.1,"e":98.63},{"s":"E6","c":90,"q":85,"e":98.63},
{"s":"E6","c":91,"q":84.8,"e":98.63},{"s":"E6","c":92,"q":84.7,"e":98.62},{"s":"E6","c":93,"q":84.5,"e":98.63},{"s":"E6","c":94,"q":84.4,"e":98.63},{"s":"E6","c":95,"q":84.3,"e":98.62},{"s":"E6","c":96,"q":84.1,"e":98.63},{"s":"E6","c":97,"q":84,"e":98.63},{"s":"E6","c":98,"q":83.8,"e":98.62},{"s":"E6","c":99,"q":83.7,"e":98.63},{"s":"E6","c":100,"q":83.5,"e":98.63}
]},
"spacing": 13,
"resolve": {"scale": {"color": "independent"}, "legend": {"color": "independent"}},
"vconcat": [
 {"spacing": 55, "resolve": {"scale": {"color": "independent"}, "legend": {"color": "independent"}},
  "hconcat": [
  {"width": 329, "height": 224,
   "transform": [{"filter": {"field": "s", "oneOf": ["M", "N", "T"]}}],
   "resolve": {"scale": {"y": "independent"}},
   "encoding": {"x": {"field": "c", "type": "quantitative", "scale": {"domain": [0, 100], "nice": false}, "axis": {"title": "Cycle No", "values": [0, 20, 40, 60, 80, 100], "labelOverlap": false, "labelPadding": 4, "titlePadding": 10}}},
   "layer": [
    {"mark": {"type": "point", "filled": true, "shape": "circle", "size": 42, "opacity": 1},
     "encoding": {
      "y": {"field": "q", "type": "quantitative", "scale": {"domain": [0, 140], "nice": false, "zero": false}, "axis": {"orient": "left", "title": "Specific lithiation capacity / mAh g⁻¹", "values": [0, 20, 40, 60, 80, 100, 120, 140], "minExtent": 30, "maxExtent": 30, "labelPadding": 5, "titlePadding": 9}},
      "color": {"field": "s", "type": "nominal", "scale": {"domain": ["M", "N", "T"], "range": ["#0a0aff", "#ff1aff", "#1a8c1a"]},
       "legend": {"legendX": -10, "legendY": 143, "rowPadding": 5, "labelExpr": "datum.label + '사 LMO'", "encode": {"labels": {"update": {"fill": {"signal": "datum.value == 'M' ? '#0000ff' : datum.value == 'N' ? '#ff00ff' : '#1e7b1e'"}}}}}}
     }},
    {"mark": {"type": "point", "filled": true, "shape": "diamond", "size": 18, "opacity": 1},
     "encoding": {
      "y": {"field": "e", "type": "quantitative", "scale": {"domain": [84, 101], "nice": false, "zero": false}, "axis": {"orient": "right", "title": "Coulombic efficiency / %", "values": [84, 86, 88, 90, 92, 94, 96, 98, 100], "minExtent": 31, "maxExtent": 31, "labelPadding": 6, "titlePadding": 10}},
      "color": {"field": "s", "type": "nominal"}
     }}
   ]},
  {"width": 328, "height": 224,
   "transform": [{"filter": {"field": "s", "oneOf": ["Ub", "Uc"]}}],
   "resolve": {"scale": {"y": "independent"}},
   "encoding": {"x": {"field": "c", "type": "quantitative", "scale": {"domain": [0, 100], "nice": false}, "axis": {"title": "Cycle No", "values": [0, 20, 40, 60, 80, 100], "labelOverlap": false, "labelPadding": 4, "titlePadding": 10}}},
   "layer": [
    {"mark": {"type": "point", "filled": true, "shape": "cross", "angle": 45, "size": 45, "opacity": 1},
     "encoding": {
      "y": {"field": "q", "type": "quantitative", "scale": {"domain": [0, 140], "nice": false, "zero": false}, "axis": {"orient": "left", "title": "Specific lithiation capacity / mAh g⁻¹", "values": [0, 20, 40, 60, 80, 100, 120, 140], "minExtent": 30, "maxExtent": 30, "labelPadding": 5, "titlePadding": 9}},
      "color": {"field": "s", "type": "nominal", "scale": {"domain": ["Ub", "Uc"], "range": ["#ff8c1a", "#ff0000"]},
       "legend": {"legendX": -13, "legendY": 166, "labelExpr": "'개발 LMO ' + datum.label", "encode": {"labels": {"update": {"fill": {"signal": "datum.value == 'Ub' ? '#ff7f1e' : '#ff0000'"}}}}}}
     }},
    {"mark": {"type": "point", "filled": true, "shape": "cross", "angle": 45, "size": 45, "opacity": 1},
     "encoding": {
      "y": {"field": "e", "type": "quantitative", "scale": {"domain": [84, 101], "nice": false, "zero": false}, "axis": {"orient": "right", "title": "Coulombic efficiency / %", "values": [84, 86, 88, 90, 92, 94, 96, 98, 100], "minExtent": 31, "maxExtent": 31, "labelPadding": 6, "titlePadding": 10}},
      "color": {"field": "s", "type": "nominal"}
     }}
   ]}
 ]},
 {"spacing": 55, "resolve": {"scale": {"color": "independent"}, "legend": {"color": "independent"}},
  "hconcat": [
  {"width": 328, "height": 225,
   "transform": [{"filter": {"field": "s", "oneOf": ["Kf", "Kb"]}}],
   "resolve": {"scale": {"y": "independent"}},
   "encoding": {"x": {"field": "c", "type": "quantitative", "scale": {"domain": [0, 100], "nice": false}, "axis": {"title": "Cycle No", "values": [0, 10, 20, 30, 40, 50, 60, 70, 80, 90, 100], "tickCount": 11, "labelOverlap": false, "labelPadding": 4, "titlePadding": 10}}},
   "layer": [
    {"mark": {"type": "point", "filled": true, "shape": "triangle-up", "size": 42, "opacity": 1},
     "encoding": {
      "y": {"field": "q", "type": "quantitative", "scale": {"domain": [0, 140], "nice": false, "zero": false}, "axis": {"orient": "left", "title": "Specific lithiation capacity / mAh g⁻¹", "values": [0, 20, 40, 60, 80, 100, 120, 140], "minExtent": 30, "maxExtent": 30, "labelPadding": 5, "titlePadding": 9}},
      "color": {"field": "s", "type": "nominal", "scale": {"domain": ["Kb", "Kf"], "range": ["#0b3b38", "#4a9896"]},
       "legend": {"legendX": -11, "legendY": 176, "rowPadding": 2, "labelExpr": "'개발 LMO ' + datum.label", "encode": {"labels": {"update": {"fill": {"signal": "datum.value == 'Kb' ? '#0c3a5c' : '#3f9696'"}}}}}}
     }},
    {"mark": {"type": "point", "filled": true, "shape": "diamond", "size": 40, "opacity": 1},
     "encoding": {
      "y": {"field": "e", "type": "quantitative", "scale": {"domain": [84, 101], "nice": false, "zero": false}, "axis": {"orient": "right", "title": "Coulombic efficiency / %", "values": [84, 86, 88, 90, 92, 94, 96, 98, 100], "minExtent": 31, "maxExtent": 31, "labelPadding": 6, "titlePadding": 10}},
      "color": {"field": "s", "type": "nominal"}
     }}
   ]},
  {"width": 333, "height": 227,
   "transform": [{"filter": {"field": "s", "oneOf": ["E4", "E5", "E6"]}}],
   "resolve": {"scale": {"y": "independent"}},
   "encoding": {"x": {"field": "c", "type": "quantitative", "scale": {"domain": [0, 100], "nice": false}, "axis": {"title": "Cycle No", "values": [0, 10, 20, 30, 40, 50, 60, 70, 80, 90, 100], "tickCount": 11, "labelOverlap": false, "labelPadding": 4, "titlePadding": 10}}},
   "layer": [
    {"mark": {"type": "point", "filled": true, "shape": "square", "size": 45, "opacity": 1},
     "encoding": {
      "y": {"field": "q", "type": "quantitative", "scale": {"domain": [0, 140], "nice": false, "zero": false}, "axis": {"orient": "left", "title": "Specific lithiation capacity / mAh g⁻¹", "values": [0, 20, 40, 60, 80, 100, 120, 140], "minExtent": 30, "maxExtent": 30, "labelPadding": 5, "titlePadding": 9}},
      "color": {"field": "s", "type": "nominal", "scale": {"domain": ["E4", "E5", "E6"], "range": ["#1c2878", "#8f8f1e", "#7d2f9e"]},
       "legend": {"legendX": -12, "legendY": 146, "rowPadding": 5, "labelExpr": "'개발 LMO ' + datum.label", "encode": {"labels": {"update": {"fill": {"signal": "datum.value == 'E4' ? '#1b3a5e' : datum.value == 'E5' ? '#4e4a2c' : '#7330a0'"}}}}}}
     }},
    {"mark": {"type": "point", "filled": true, "shape": "triangle-down", "size": 42, "opacity": 1},
     "encoding": {
      "y": {"field": "e", "type": "quantitative", "scale": {"domain": [84, 101], "nice": false, "zero": false}, "axis": {"orient": "right", "title": "Coulombic efficiency / %", "values": [84, 86, 88, 90, 92, 94, 96, 98, 100], "minExtent": 31, "maxExtent": 31, "labelPadding": 6, "titlePadding": 6}},
      "color": {"field": "s", "type": "nominal"}
     }}
   ]}
 ]}
]
}
